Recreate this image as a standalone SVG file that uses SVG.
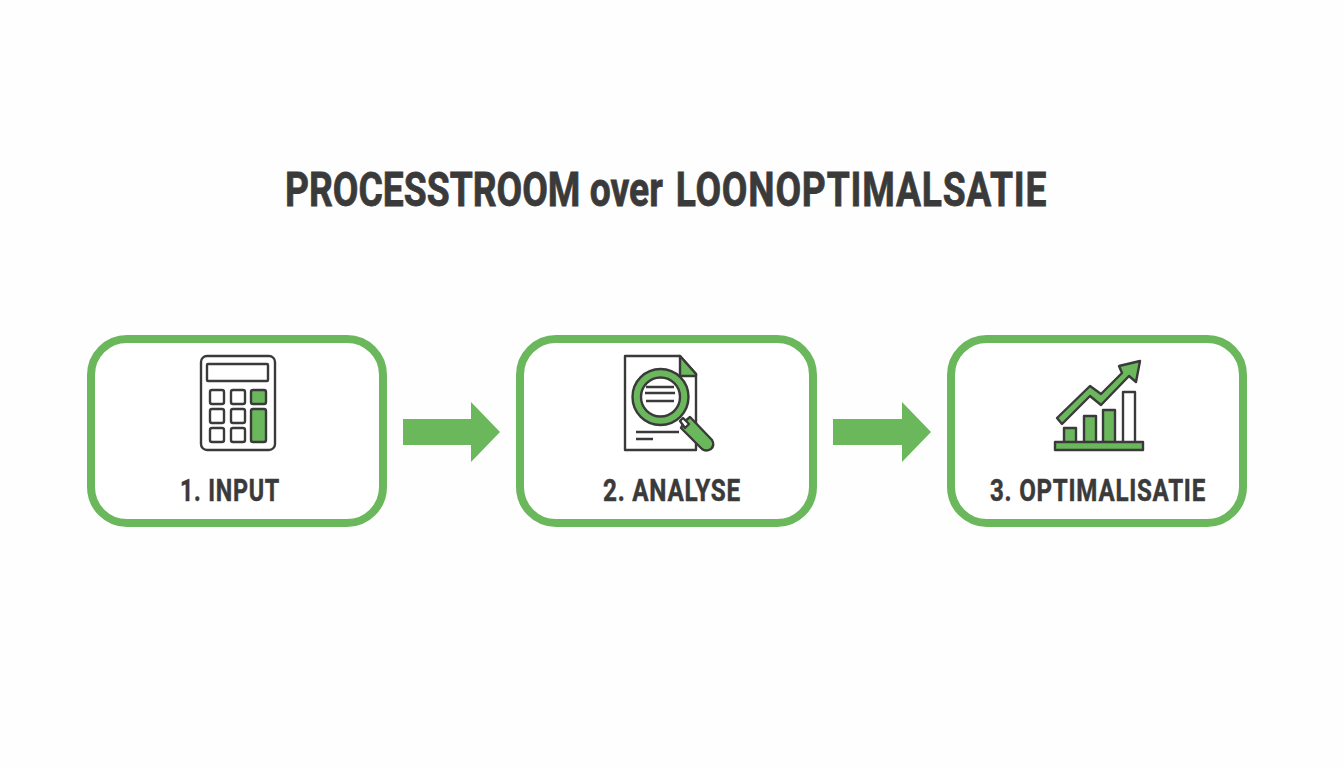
<svg xmlns="http://www.w3.org/2000/svg" width="1344" height="768" viewBox="0 0 1344 768">
<style>
.box{fill:#fff;stroke:#6ab75c;stroke-width:8}
.arrow{fill:#6ab75c}
.title,.label{font-family:Roboto,"Liberation Sans",sans-serif;font-weight:700;fill:#3a3a3a;stroke:#3a3a3a;text-anchor:start}
.title{font-size:49px;stroke-width:.8}
.label{font-size:31px;stroke-width:.5;letter-spacing:1px}
.k{fill:#fff;stroke:#3a3a3a;stroke-width:2.400;stroke-linejoin:round}
.g{fill:#6ab75c;stroke:#3a3a3a;stroke-width:2.400;stroke-linejoin:round}
.l{fill:none;stroke:#3a3a3a;stroke-width:2.400}
</style>
<rect width="1344" height="768" fill="#fefefe"/>
<text class="title" transform="translate(285 206) scale(.76 1)" x="0" y="0">PROCESSTROOM <tspan x="401">over </tspan><tspan x="514" letter-spacing="1.050">LOONOPTIMALSATIE</tspan></text>
<g id="connectors">
<path class="arrow" d="M403 419H471V402L500 432L471 462V445H403Z"/>
<path class="arrow" d="M833 419H902V402L931 432L902 462V445H833Z"/>
</g>
<g id="node-input">
<rect class="box" x="91" y="339" width="292" height="184" rx="36"/>
<rect class="k" x="201" y="356" width="74" height="94" rx="6"/>
<rect class="k" x="207" y="364" width="61" height="17" rx="1"/>
<rect class="k" x="210" y="390" width="14" height="14" rx="2"/><rect class="k" x="231" y="390" width="14" height="14" rx="2"/><rect class="g" x="251" y="390" width="15" height="14" rx="2"/>
<rect class="k" x="210" y="409" width="14" height="14" rx="2"/><rect class="k" x="231" y="409" width="14" height="14" rx="2"/><rect class="g" x="251" y="409" width="15" height="33" rx="2"/>
<rect class="k" x="210" y="428" width="14" height="14" rx="2"/><rect class="k" x="231" y="428" width="14" height="14" rx="2"/>
<text class="label" x="180" y="501" textLength="100" lengthAdjust="spacingAndGlyphs">1. INPUT</text>
</g>
<g id="node-analyse">
<rect class="box" x="520" y="339" width="293" height="184" rx="36"/>
<path class="k" d="M625 356H680L696 374V450H625Z"/>
<path class="g" d="M680 356L696 374V376H680Z"/>
<path class="l" d="M636 432H679M636 439H653"/>
<path class="g" d="M684 422L690 417L712 440Q715 445 711 449Q706 452 702 449L681 428Z"/>
<path class="k" d="M680 421L683 418L689 424L685 428Z"/>
<circle cx="660.500" cy="397" r="28" fill="#6ab75c" stroke="#3a3a3a" stroke-width="2.400"/>
<circle cx="660.500" cy="397" r="19.500" fill="#fff" stroke="#3a3a3a" stroke-width="2.400"/>
<path class="l" d="M646 387H674M645 393H675M646 401H674"/>
<text class="label" x="603" y="501" textLength="138" lengthAdjust="spacingAndGlyphs">2. ANALYSE</text>
</g>
<g id="node-optimalisatie">
<rect class="box" x="951" y="339" width="292" height="184" rx="36"/>
<rect class="g" x="1064" y="428" width="12" height="15"/>
<rect class="g" x="1084" y="416" width="12" height="27"/>
<rect class="g" x="1103" y="410" width="12" height="33"/>
<rect class="k" x="1123" y="392" width="12" height="51"/>
<rect class="g" x="1055" y="442" width="88" height="8"/>
<path class="g" d="M1057 418L1090 386L1101 394L1122 373L1119 366L1140 361L1136 382L1129 376L1101 405L1090 396L1062 424Z"/>
<text class="label" x="990" y="501" textLength="216" lengthAdjust="spacingAndGlyphs">3. OPTIMALISATIE</text>
</g>
</svg>
